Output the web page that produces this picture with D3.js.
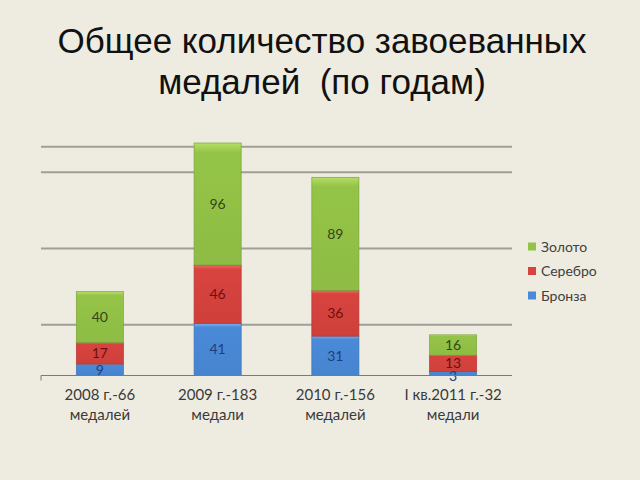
<!DOCTYPE html>
<html><head><meta charset="utf-8">
<script src="https://cdn.jsdelivr.net/npm/d3@7"></script>
<style>
html,body{margin:0;padding:0;background:#EEECE1;}
svg{display:block;}
</style></head>
<body>
<svg id="chart" width="640" height="480"></svg>
<script>
const titleLines = ["Общее количество завоеванных", "медалей  (по годам)"];
const categories = [["2008 г.-66","медалей"],["2009 г.-183","медали"],["2010 г.-156","медалей"],["I кв.2011 г.-32","медали"]];
const seriesNames = ["Бронза","Серебро","Золото"];
const bronze = [9, 41, 31, 3];
const silver = [17, 46, 36, 13];
const gold = [40, 96, 89, 16];
const gridValues = [40, 100, 160, 180];
const yMax = 200;

const colors = {"Бронза":["#7ab0f0","#4a8ad8","#1f3f7a"], "Серебро":["#ee6a63","#d8433e","#6a1010"], "Золото":["#b5dd66","#94c447","#33451a"]};

const svg = d3.select("#chart");
const left = 41, right = 512, base = 375.5;
const x = d3.scaleBand().domain(d3.range(categories.length)).range([left, right]).paddingInner(0.6).paddingOuter(0.3);
const y = d3.scaleLinear().domain([0, yMax]).range([base, base - 1.2705*yMax]);

// gradients
const defs = svg.append("defs");
seriesNames.forEach((s,i)=>{
  const g = defs.append("linearGradient").attr("id","g"+i).attr("x1",0).attr("x2",0).attr("y1",0).attr("y2",1);
  g.append("stop").attr("offset","0").attr("stop-color",colors[s][0]);
  g.append("stop").attr("offset","0.08").attr("stop-color",colors[s][1]);
  g.append("stop").attr("offset","1").attr("stop-color",d3.color(colors[s][1]).darker(0.12));
});

// title
svg.append("g").selectAll("text").data(titleLines).join("text")
  .attr("x", 322).attr("y",(d,i)=>53 + i*41)
  .attr("text-anchor","middle")
  .style("white-space","pre")
  .attr("font-family","Liberation Sans, Arial, sans-serif")
  .attr("font-size", 35).attr("fill","#111")
  .text(d=>d);

// gridlines
svg.append("g").selectAll("line").data(gridValues).join("line")
  .attr("x1", left).attr("x2", right)
  .attr("y1", d=>y(d)).attr("y2", d=>y(d))
  .attr("stroke","#a09e96").attr("stroke-width",2);

// stacked
const rows = categories.map((c,i)=>({i, "Бронза":bronze[i], "Серебро":silver[i], "Золото":gold[i]}));
const stack = d3.stack().keys(seriesNames)(rows);
stack.forEach((layer, si)=>{
  const s = seriesNames[si];
  const g = svg.append("g");
  g.selectAll("rect").data(layer).join("rect")
    .attr("x", d=>x(d.data.i)).attr("width", x.bandwidth())
    .attr("y", d=>y(d[1])).attr("height", d=>y(d[0])-y(d[1]))
    .attr("fill","url(#g"+si+")")
    .attr("stroke", d3.color(colors[s][1]).darker(0.5)).attr("stroke-width",0.7);
});
stack.forEach((layer, si)=>{
  const s = seriesNames[si];
  svg.append("g").selectAll("text").data(layer).join("text")
    .attr("x", d=>x(d.data.i)+x.bandwidth()/2)
    .attr("y", d=>{
      const c = (y(d[0])+y(d[1]))/2;
      return (y(d[0])-y(d[1]) < 10) ? c + 2 : c;
    })
    .attr("dy","0.36em")
    .attr("text-anchor","middle")
    .attr("font-family","Lato, Carlito, sans-serif")
    .attr("font-size",14).attr("fill",colors[s][2])
    .text(d=>d[1]-d[0]);
});

// baseline axis
const ax = svg.append("g");
ax.append("line").attr("x1",left).attr("x2",right).attr("y1",base).attr("y2",base).attr("stroke","#7a7a76").attr("stroke-width",1);
ax.append("line").attr("x1",left).attr("x2",left).attr("y1",base).attr("y2",base+5).attr("stroke","#7a7a76").attr("stroke-width",1);

// category labels
const cl = svg.append("g").selectAll("text").data(categories).join("text")
  .attr("text-anchor","middle")
  .attr("font-family","Lato, Carlito, sans-serif")
  .attr("font-size",15).attr("fill","#3a3a3a");
cl.each(function(d,i){
  const t = d3.select(this);
  d.forEach((line,j)=>{
    t.append("tspan").attr("x", x(i)+x.bandwidth()/2).attr("y", 400 + j*20).text(line);
  });
});

// legend
const legendOrder = ["Золото","Серебро","Бронза"];
const lg = svg.append("g").selectAll("g").data(legendOrder).join("g")
  .attr("transform",(d,i)=>`translate(528,${246.5 + i*24.5})`);
lg.append("rect").attr("x",0).attr("y",-4).attr("width",8).attr("height",8)
  .attr("fill",d=>colors[d][1]);
lg.append("text").attr("x",13).attr("y",0).attr("dy","0.36em")
  .attr("font-family","Lato, Carlito, sans-serif")
  .attr("font-size",14).attr("fill","#404040").text(d=>d);
</script>
</body></html>
